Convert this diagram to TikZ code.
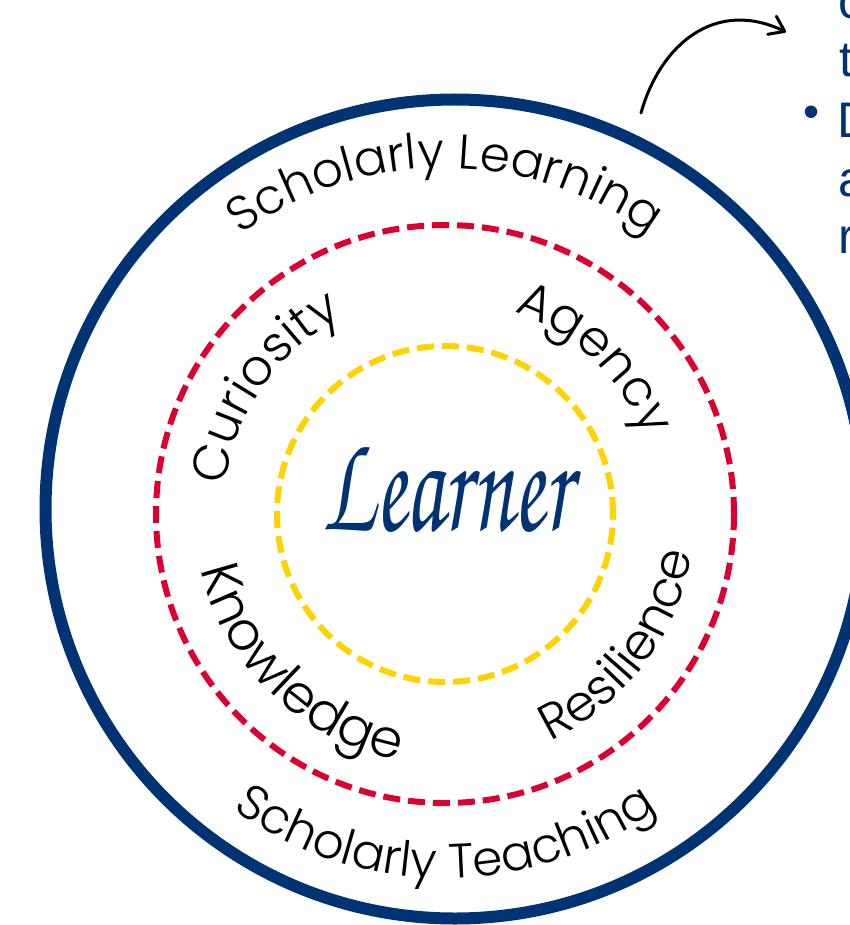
\documentclass[tikz,border=0pt]{standalone}
\usepackage{fontspec}
\IfFontExistsTF{Poppins Light}{\setmainfont{Poppins Light}}{\setmainfont{Poppins}}
\newfontfamily\rightfont{Liberation Sans}
\newfontfamily\learnerfont{texgyrechorus-mediumitalic.otf}
\usetikzlibrary{decorations.text,arrows.meta}
\definecolor{navy}{RGB}{0,51,115}
\definecolor{ringred}{RGB}{220,0,50}
\definecolor{ringyellow}{RGB}{255,210,0}
\newcommand\lblfont{\fontsize{48.5pt}{52pt}\selectfont}
\newcommand\innerfont{\fontsize{50pt}{54pt}\selectfont}
\newcommand\bigfont{\fontsize{53pt}{56pt}\selectfont}
\tikzset{
  ringline/.style={line width=6pt, dash pattern=on 17pt off 8pt},
  arclabel/.style={decorate, decoration={text along path, text align=center, text={|\lblfont|#1}}},
  innerlabel/.style={decorate, decoration={text along path, text align=center, text={|\innerfont|#1}}},
  widelabel/.style={decorate, decoration={text along path, text align=center, text={|\bigfont|#1}}},
  sidetext/.style={anchor=base west, inner sep=0pt, text=navy, font=\rightfont\fontsize{50pt}{56pt}\selectfont}
}
\begin{document}
\begin{tikzpicture}[x=1pt,y=1pt]
\useasboundingbox (0,0) rectangle (850,-925);
\clip (0,0) rectangle (850,-925);
\coordinate (C) at (445,-514);
\coordinate (B) at (455,-509);
% rings
\draw[navy, line width=12pt] (B) circle[radius=409.5pt];
\draw[ringred, ringline] (C) circle[radius=289pt];
\draw[ringyellow, ringline] (C) circle[radius=168pt];
% outer labels
\path[arclabel={Scholarly Learning}] ([shift={(170:346pt)}]C) arc[start angle=170, end angle=10, radius=346pt];
\path[arclabel={Scholarly Teaching}] ([shift={(190:364pt)}]C) arc[start angle=190, end angle=350, radius=364pt];
% inner labels
\path[innerlabel={Curiosity}] ([shift={(185:222pt)}]C) arc[start angle=185, end angle=105, radius=222pt];
\path[innerlabel={Agency}] ([shift={(86:214pt)}]C) arc[start angle=86, end angle=6, radius=214pt];
\path[widelabel={Knowledge}] ([shift={(182:250pt)}]C) arc[start angle=182, end angle=270, radius=250pt];
\path[innerlabel={Resilience}] ([shift={(280:250pt)}]C) arc[start angle=280, end angle=366, radius=250pt];
% centre word
\node[anchor=base, text=navy, inner sep=0pt, font=\learnerfont\fontsize{125pt}{125pt}\selectfont] (learner) at (447,-530) {\scalebox{0.72}[1.15]{Learner}};
% arrow
\coordinate (a0) at (641,-113);
\coordinate (a1) at (786,-32);
\draw[line width=3pt, line cap=round, -{Straight Barb[length=14pt,width=20pt,round]}] (a0) .. controls (660,-45) and (715,2) .. (a1);
% clipped side text
\node[sidetext] (s1) at (838,-19) {c};
\node[sidetext] (s2) at (839,-77) {t};
\node[sidetext] (s3) at (837,-138) {D};
\node[sidetext] (s4) at (838,-197) {a};
\node[sidetext] (s5) at (838,-253) {r};
\node[inner sep=0pt, text=navy, font=\rightfont\fontsize{46pt}{50pt}\selectfont] (bullet) at (812,-117) {•};
\end{tikzpicture}
\end{document}
